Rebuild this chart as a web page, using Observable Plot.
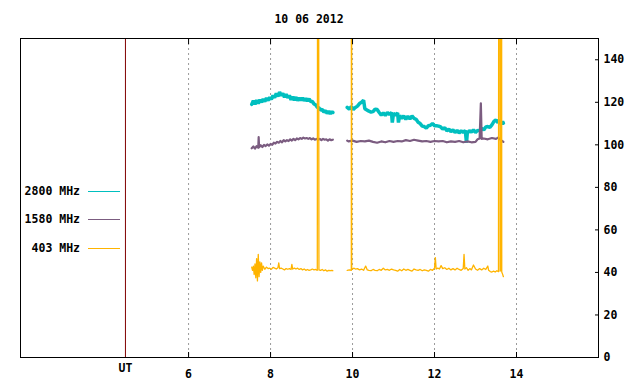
<!DOCTYPE html>
<html><head><meta charset="utf-8">
<script src="https://cdn.jsdelivr.net/npm/d3@7"></script>
<script src="https://cdn.jsdelivr.net/npm/@observablehq/plot@0.6"></script>
<style>
body{margin:0;background:#fff;}
#wrap{position:relative;width:640px;height:384px;font-family:"DejaVu Sans Mono",monospace;font-weight:bold;font-size:11.5px;color:#000;}
#title{position:absolute;left:0;top:12px;width:618px;text-align:center;line-height:14px;}
#chart{position:absolute;left:0;top:30px;}
.lg{position:absolute;left:0;width:80px;text-align:right;line-height:14px;white-space:pre;}
.ll{position:absolute;left:88px;width:32px;height:1px;}
</style>
</head><body>
<div id="wrap"><div id="title"></div><div id="chart"></div></div>
<script>
const titleText = "10 06 2012";
const xTicks = [6, 8, 10, 12, 14];
const yTicks = [0, 20, 40, 60, 80, 100, 120, 140];
const utPos = 4.46;
const utLabel = "UT";
const seriesNames = ["2800 MHz", "1580 MHz", "403 MHz"];
const seriesColors = ["#00bfbf", "#7b5c80", "#ffb400"];

const t2800 = [7.54,7.58,7.62,7.66,7.70,7.74,7.78,7.82,7.86,7.90,7.94,7.98,8.02,8.06,8.10,8.14,8.18,8.22,8.26,8.30,8.34,8.38,8.42,8.46,8.50,8.54,8.58,8.62,8.66,8.70,8.74,8.78,8.82,8.86,8.90,8.94,8.98,9.02,9.06,9.10,9.14,9.18,9.22,9.26,9.30,9.34,9.38,9.42,9.46,9.50,9.52,
 9.70,
 9.87,9.92,9.97,10.02,10.07,10.12,10.17,10.22,10.27,10.30,10.35,10.40,10.45,10.50,10.55,10.60,10.65,10.70,10.75,10.80,10.85,10.90,10.95,10.97,11.00,11.05,11.10,11.12,11.15,11.20,11.25,11.30,11.35,11.40,11.45,11.50,11.55,11.60,11.65,11.70,11.75,11.80,11.85,11.90,11.95,12.00,12.05,12.10,12.15,12.20,12.25,12.30,12.35,12.40,12.45,12.50,12.55,12.60,12.65,12.70,12.75,12.78,12.80,12.85,12.90,12.95,13.00,13.05,13.10,13.15,13.20,13.25,13.30,13.35,13.40,13.45,13.50,13.54,13.58,13.62,13.66,13.68];
const v2800 = [119.0,120.8,119.0,121.0,119.4,121.2,120.0,121.6,120.4,122.0,120.8,122.4,121.4,123.2,122.2,124.2,122.8,124.8,123.2,124.2,122.4,123.8,122.2,123.2,121.2,122.6,121.0,122.4,120.8,122.0,121.0,122.0,120.8,121.8,120.6,121.6,120.4,120.4,119.2,118.8,117.6,117.4,116.4,116.6,115.4,116.1,114.8,115.8,114.6,115.6,115.2,
 null,
 117.6,116.8,118.0,116.6,117.6,118.2,119.4,120.0,121.0,117.0,116.4,115.8,115.4,115.6,116.8,116.6,115.2,114.0,115.0,113.8,115.2,114.2,115.2,110.5,114.8,114.0,115.0,110.5,113.8,112.4,113.6,112.0,113.4,112.2,113.6,112.4,112.0,110.6,110.0,108.8,108.6,107.8,109.0,109.2,110.0,109.0,109.0,108.8,108.4,107.4,108.0,106.6,107.4,106.2,107.0,105.8,106.8,105.6,106.6,105.8,106.8,101.0,105.6,106.6,106.0,107.0,105.8,106.8,106.6,107.8,107.0,108.4,108.6,108.2,109.4,111.0,111.8,110.4,111.6,109.8,111.0,110.2];

const t1580 = [7.54,7.58,7.62,7.66,7.70,7.71,7.72,7.76,7.80,7.84,7.88,7.92,7.96,8.00,8.04,8.08,8.12,8.16,8.20,8.24,8.28,8.32,8.36,8.40,8.44,8.48,8.52,8.56,8.60,8.64,8.68,8.72,8.76,8.80,8.84,8.88,8.92,8.96,9.00,9.04,9.08,9.12,9.16,9.20,9.24,9.28,9.32,9.36,9.40,9.44,9.48,9.52,
 9.70,
 9.87,9.9,10.0,10.1,10.2,10.3,10.4,10.5,10.6,10.7,10.8,10.9,11.0,11.1,11.2,11.3,11.4,11.5,11.6,11.7,11.8,11.9,12.0,12.1,12.2,12.3,12.4,12.5,12.6,12.7,12.8,12.9,13.0,13.05,13.1,13.13,13.15,13.2,13.3,13.4,13.5,13.55,13.6,13.65,13.68];
const v1580 = [98.4,99.2,98.2,99.4,98.6,103.6,98.8,99.8,99.0,100.0,99.4,100.2,99.6,100.4,100.0,101.0,100.6,101.4,101.0,101.8,101.2,102.2,101.6,102.2,101.8,102.6,102.0,102.8,102.2,103.0,102.6,103.2,102.8,103.4,103.0,103.2,102.8,103.2,102.6,103.0,102.4,102.8,102.4,102.8,102.2,102.8,102.4,102.6,102.0,102.6,102.2,102.4,
 null,
 102.0,101.6,102.0,101.4,101.8,101.6,102.0,101.4,101.0,101.6,101.2,101.8,101.4,101.8,101.6,102.2,101.8,102.4,102.0,101.6,101.8,101.4,101.8,101.6,101.8,101.2,101.6,101.4,101.8,101.2,101.6,101.2,101.4,102.6,103.0,119.5,102.8,103.0,102.6,103.2,102.8,103.4,102.6,101.8,101.4];

const t403 = [7.54,7.56,7.58,7.60,7.62,7.64,7.66,7.68,7.70,7.72,7.74,7.76,7.78,7.80,7.82,7.86,7.90,7.94,7.98,8.02,8.06,8.10,8.14,8.18,8.20,8.22,8.26,8.30,8.34,8.38,8.42,8.46,8.50,8.52,8.54,8.58,8.62,8.66,8.70,8.74,8.78,8.82,8.86,8.90,8.94,8.98,9.02,9.06,9.10,9.14,9.16,9.18,9.22,9.26,9.30,9.34,9.38,9.42,9.46,9.50,9.52,
 9.70,
 9.87,9.92,9.97,9.975,9.98,10.03,10.07,10.12,10.17,10.22,10.27,10.32,10.36,10.40,10.45,10.50,10.55,10.60,10.65,10.70,10.75,10.80,10.85,10.90,10.95,11.00,11.05,11.10,11.15,11.20,11.25,11.30,11.35,11.40,11.45,11.50,11.55,11.60,11.65,11.70,11.75,11.80,11.85,11.90,11.95,12.00,12.02,12.04,12.08,12.12,12.16,12.20,12.25,12.30,12.35,12.40,12.45,12.50,12.55,12.60,12.65,12.70,12.72,12.74,12.78,12.82,12.86,12.90,12.95,13.00,13.05,13.10,13.15,13.20,13.25,13.30,13.32,13.36,13.40,13.44,13.48,13.52,13.56,13.575,13.585,13.60,13.62,13.63,13.64,13.66,13.68];
const v403 = [42.5,41.0,43.0,39.0,44.0,37.5,46.5,36.0,48.5,38.0,45.0,40.0,44.5,41.0,43.0,41.5,42.5,41.8,42.0,41.5,42.4,42.0,41.6,42.2,44.5,41.8,42.0,41.6,41.2,41.8,41.5,41.8,41.4,43.8,41.6,42.0,41.6,42.0,41.4,41.8,41.2,41.6,41.0,41.4,41.0,41.2,41.6,41.2,41.4,41.0,500,41.2,41.0,41.4,40.8,41.2,40.6,41.0,40.8,41.0,40.8,
 null,
 41.0,41.2,41.0,500,41.4,42.0,41.6,41.8,41.2,41.6,41.0,43.0,41.2,41.0,40.8,41.4,41.0,40.8,41.4,41.0,42.0,41.2,41.4,41.0,41.6,41.2,41.0,40.6,41.4,40.8,41.6,41.0,41.4,41.0,40.6,41.6,41.2,41.0,41.4,40.8,41.2,41.0,40.6,41.4,41.0,42.0,47.0,41.6,42.0,41.6,43.2,41.8,42.2,41.4,42.0,41.2,41.8,41.2,42.0,41.4,41.0,41.8,48.5,41.6,42.2,41.0,41.8,41.2,43.5,41.6,41.0,41.8,41.2,42.0,41.4,43.0,41.0,40.4,40.2,40.6,40.2,40.8,40.4,500,500,40.6,41.0,500,40.2,39.2,38.0];

const toRows = (ts, vs) => ts.map((t, i) => ({t, v: vs[i]}));
const d2800 = toRows(t2800, v2800);
const d1580 = toRows(t1580, v1580);
const d403 = toRows(t403, v403);

document.getElementById("title").textContent = titleText;

const chart = Plot.plot({
  width: 640, height: 354,
  marginTop: 8, marginBottom: 27, marginLeft: 20, marginRight: 42,
  style: {fontFamily: "DejaVu Sans Mono, monospace", fontWeight: "bold", fontSize: "11.5px", color: "#000", background: "#fff"},
  x: {domain: [1.9, 16]},
  y: {domain: [0, 150]},
  marks: [
    Plot.gridX(xTicks, {stroke: "#9a9a9a", strokeOpacity: 1, strokeDasharray: "2,3"}),
    Plot.ruleX([utPos], {stroke: "#800000"}),
    Plot.line(d2800, {x: "t", y: "v", stroke: seriesColors[0], strokeWidth: 3.5, strokeLinejoin: "miter", clip: true}),
    Plot.line(d1580, {x: "t", y: "v", stroke: seriesColors[1], strokeWidth: 2.2, clip: true}),
    Plot.line(d403, {x: "t", y: "v", stroke: seriesColors[2], strokeWidth: 1.3, clip: true}),
    Plot.frame({stroke: "#000"}),
    Plot.axisX(xTicks, {anchor: "bottom", tickSize: -5, tickPadding: 17, label: null}),
    Plot.axisX(xTicks, {anchor: "top", tickSize: -5, tickFormat: () => "", label: null}),
    Plot.text([utPos], {x: d => d, text: () => utLabel, frameAnchor: "bottom", dy: 6, lineAnchor: "top"}),
    Plot.axisY(yTicks, {anchor: "right", tickSize: -4, tickPadding: 9, label: null, textAnchor: "start"})
  ]
});
document.getElementById("chart").appendChild(chart);

const wrap = document.getElementById("wrap");
const legendTops = [191, 219, 248];
seriesNames.forEach((name, i) => {
  const y = legendTops[i];
  const t = document.createElement("div");
  t.className = "lg"; t.textContent = name; t.style.top = (y - 7) + "px";
  wrap.appendChild(t);
  const l = document.createElement("div");
  l.className = "ll"; l.style.top = y + "px"; l.style.background = seriesColors[i];
  wrap.appendChild(l);
});
</script>
</body></html>
